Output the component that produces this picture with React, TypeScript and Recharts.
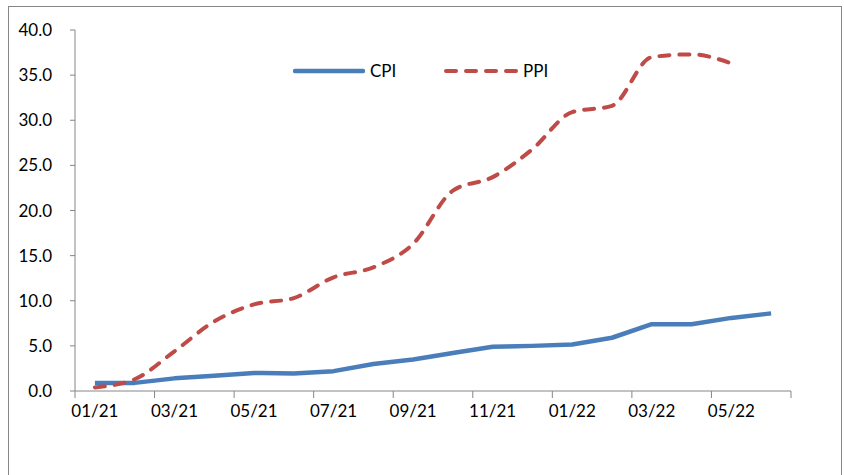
import { LineChart, Line, XAxis, YAxis } from 'recharts';

const months = [
  '01/21', '02/21', '03/21', '04/21', '05/21', '06/21', '07/21', '08/21', '09/21',
  '10/21', '11/21', '12/21', '01/22', '02/22', '03/22', '04/22', '05/22', '06/22',
];
const cpi = [0.9, 0.9, 1.4, 1.7, 2.0, 1.95, 2.2, 3.0, 3.5, 4.2, 4.9, 5.0, 5.15, 5.9, 7.4, 7.4, 8.1, 8.6];
const ppi = [0.4, 1.3, 4.4, 7.7, 9.6, 10.3, 12.6, 13.7, 16.3, 22.2, 23.7, 26.8, 30.9, 31.6, 37.0, 37.3, 36.3, null];
const yTicks = [0, 5, 10, 15, 20, 25, 30, 35, 40];

// each month sits in the middle of its slot, like an Excel category axis
const rows = months.map((m, i) => ({ x: i + 0.5, month: m, CPI: cpi[i], PPI: ppi[i] }));
// tick marks on slot edges every 2 months, labels on every other month
const xTicks: number[] = [];
for (let i = 0; i <= months.length; i += 2) {
  xTicks.push(i);
  if (i < months.length) xTicks.push(i + 0.5);
}

const AXIS = '#868686';
const BLUE = '#4A7EBB';
const RED = '#BE4B48';
const FONT = 'Lato, "Open Sans", sans-serif';

function XTick(props: any) {
  const { x, y, payload } = props;
  const v = payload.value as number;
  if (Number.isInteger(v)) {
    return <line x1={x} y1={y} x2={x} y2={y + 7} stroke={AXIS} strokeWidth={1} />;
  }
  return (
    <text x={x} y={y + 26} textAnchor="middle" fill="#000" fontSize={17} fontFamily={FONT}>
      {months[v - 0.5]}
    </text>
  );
}

function LegendBox() {
  return (
    <div
      style={{
        position: 'absolute',
        top: 55,
        left: 285,
        display: 'flex',
        alignItems: 'center',
        fontFamily: FONT,
        fontSize: 17,
        lineHeight: '20px',
        color: '#000',
      }}
    >
      <svg width={72} height={10} style={{ marginRight: 5 }}>
        <line x1={2} y1={5} x2={70} y2={5} stroke={BLUE} strokeWidth={4.5} strokeLinecap="round" />
      </svg>
      <span style={{ width: 74 }}>CPI</span>
      <svg width={74} height={10} style={{ marginRight: 5 }}>
        <line x1={2} y1={5} x2={72} y2={5} stroke={RED} strokeWidth={4} strokeLinecap="round" strokeDasharray="10 10" />
      </svg>
      <span>PPI</span>
    </div>
  );
}

export default function App() {
  // fixed so the frame running past the bottom edge does not add scrollbars
  return (
    <div
      style={{
        position: 'fixed',
        left: 8,
        top: 6,
        width: 834,
        height: 480,
        background: '#fff',
        overflow: 'hidden',
      }}
    >
      <svg width={834} height={480} style={{ position: 'absolute', left: 0, top: 0 }}>
        <rect x={0.5} y={0.5} width={833} height={479} fill="none" stroke={AXIS} strokeWidth={1} />
      </svg>
      <div style={{ position: 'absolute', left: 1, top: 1 }}>
        <LineChart
          width={832}
          height={466}
          data={rows}
          margin={{ top: 23, right: 50, bottom: 52, left: 6 }}
          style={{ fontFamily: FONT }}
        >
          <XAxis
            dataKey="x"
            type="number"
            domain={[0, 18]}
            ticks={xTicks}
            interval={0}
            height={30}
            tickSize={0}
            tickMargin={0}
            tickLine={false}
            stroke={AXIS}
            tick={<XTick />}
            allowDataOverflow
          />
          <YAxis
            domain={[0, 40]}
            ticks={yTicks}
            width={60}
            tickSize={5}
            tickMargin={18}
            stroke={AXIS}
            tickFormatter={(v: number) => v.toFixed(1)}
            tick={{ fill: '#000', fontSize: 17 }}
          />
          <Line
            dataKey="CPI"
            type="linear"
            stroke={BLUE}
            strokeWidth={4.5}
            strokeLinejoin="round"
            dot={false}
            isAnimationActive={false}
          />
          <Line
            dataKey="PPI"
            type="monotone"
            stroke={RED}
            strokeWidth={4}
            strokeLinecap="round"
            strokeDasharray="10 10"
            dot={false}
            isAnimationActive={false}
          />
        </LineChart>
      </div>
      <LegendBox />
    </div>
  );
}
